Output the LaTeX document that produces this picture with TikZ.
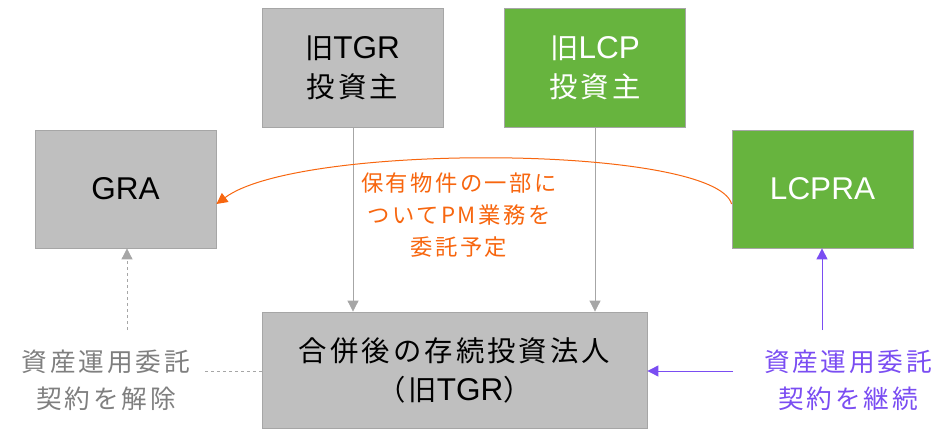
\documentclass[tikz,border=0pt]{standalone}
\usepackage{fontspec}
\setmainfont{Liberation Sans}
\newfontfamily\jp[Scale=0.9,LetterSpace=11]{Noto Sans CJK JP}
\usetikzlibrary{arrows.meta}
\definecolor{boxgray}{HTML}{BFBFBF}
\definecolor{edgegray}{HTML}{A6A6A6}
\definecolor{boxgreen}{HTML}{67B43E}
\definecolor{orng}{HTML}{F7660F}
\definecolor{purp}{HTML}{7A4DF2}
\definecolor{lblgray}{HTML}{7F7F7F}
\tikzset{
  box/.style={draw=edgegray, line width=0.8pt, inner sep=0pt, align=center},
  graybox/.style={box, fill=boxgray, text=black},
  greenbox/.style={box, fill=boxgreen, text=white},
  boxfont/.style={font=\fontsize{31.5}{39}\selectfont},
  lbl/.style={align=center, font=\jp\fontsize{28.5}{37}\selectfont},
  tip/.style={-{Triangle[length=11pt,width=11pt]}},
}
\begin{document}
\begin{tikzpicture}[x=1pt,y=-1pt]
\useasboundingbox (0,0) rectangle (950,430);
\node[graybox, boxfont, minimum width=181pt, minimum height=119pt] (tgr) at (352.5,68) {{\jp 旧}TGR\\{\jp 投資主}};
\node[greenbox, boxfont, minimum width=181pt, minimum height=119pt] (lcp) at (595,68) {{\jp 旧}LCP\\{\jp 投資主}};
\node[graybox, boxfont, minimum width=181pt, minimum height=118pt] (gra) at (125.5,189) {GRA};
\node[greenbox, boxfont, minimum width=181pt, minimum height=118pt] (lcpra) at (822.5,189) {LCPRA};
\node[graybox, boxfont, minimum width=385pt, minimum height=116pt] (merged) at (454.5,370) {{\jp 合併後の存続投資法人}\\{\jp （旧}TGR{\jp ）}};
\node[lbl, text=lblgray] (lleft) at (106,380) {資産運用委託\\契約を解除};
\node[lbl, text=purp] (lright) at (848,380) {資産運用委託\\契約を継続};
\node[align=center, text=orng, font=\jp\fontsize{24.8}{32}\selectfont] (olbl) at (459,215) {保有物件の一部に\\ついてPM業務を\\委託予定};
\coordinate (tgrb) at (353,128);
\coordinate (lcpb) at (595,128);
\draw[tip, draw=edgegray, line width=0.8pt] (tgrb) -- (tgrb |- merged.north);
\draw[tip, draw=edgegray, line width=0.8pt] (lcpb) -- (lcpb |- merged.north);
\coordinate (ls) at (127,330);
\draw[tip, dashed, draw=edgegray, line width=0.8pt] (ls) -- (ls |- gra.south);
\coordinate (ld) at (205,371);
\draw[dashed, draw=edgegray, line width=0.8pt] (ld) -- (ld -| merged.west);
\coordinate (rs) at (822,330);
\draw[tip, draw=purp, line width=1pt] (rs) -- (rs |- lcpra.south);
\coordinate (rd) at (733,371);
\draw[tip, draw=purp, line width=1pt] (rd) -- (rd -| merged.east);
\draw[tip, draw=orng, line width=1pt] (lcpra.west |- 0,204) .. controls (715,145) and (300,142) .. (gra.east |- 0,204);
\end{tikzpicture}
\end{document}
